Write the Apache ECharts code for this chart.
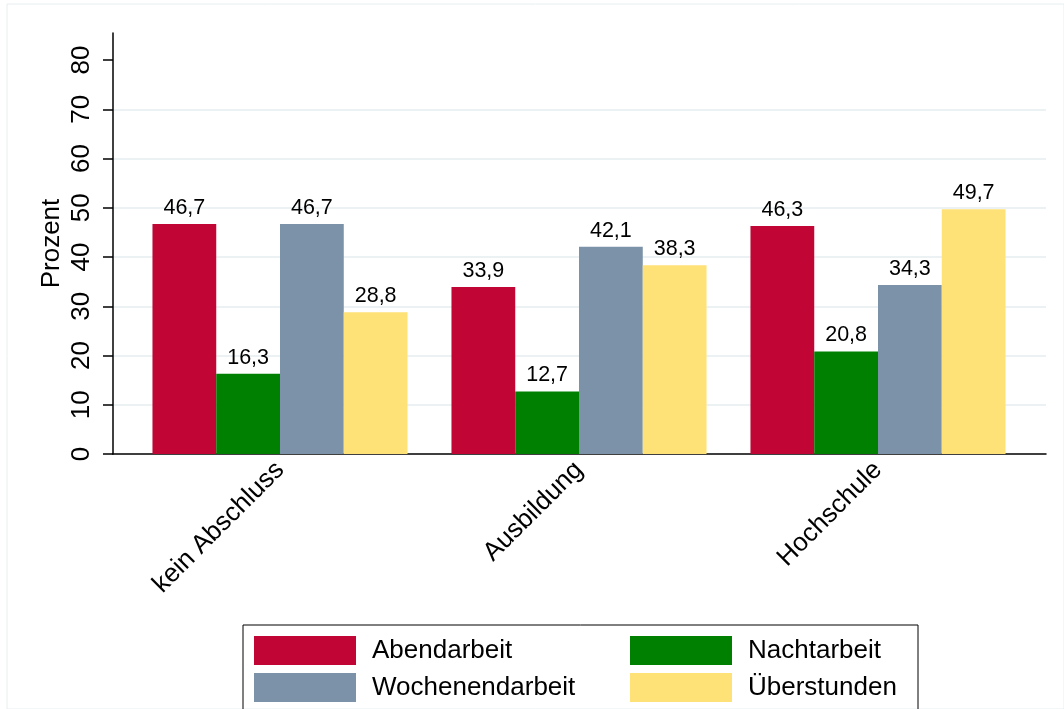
<!DOCTYPE html>
<html>
<head>
<meta charset="utf-8">
<script src="https://cdn.jsdelivr.net/npm/echarts@6/dist/echarts.min.js"></script>
<style>
html,body{margin:0;padding:0;background:#fff;}
#chart{width:1064px;height:709px;}
</style>
</head>
<body>
<div id="chart"></div>
<script>
const categories = ['kein Abschluss', 'Ausbildung', 'Hochschule'];
const seriesNames = ['Abendarbeit', 'Nachtarbeit', 'Wochenendarbeit', 'Überstunden'];
const abendarbeit = [46.7, 33.9, 46.3];
const nachtarbeit = [16.3, 12.7, 20.8];
const wochenendarbeit = [46.7, 42.1, 34.3];
const ueberstunden = [28.8, 38.3, 49.7];
const yTicks = [0, 10, 20, 30, 40, 50, 60, 70, 80];

const colors = ['#c10534', '#008000', '#7b92a8', '#ffe277'];
const values = [abendarbeit, nachtarbeit, wochenendarbeit, ueberstunden];
const FONT = "'Liberation Sans', Arial, Helvetica, sans-serif";
const gridColor = '#e6eef0';
const splitColors = yTicks.map((t, i) => (i === 0 || i === yTicks.length - 1) ? 'rgba(0,0,0,0)' : gridColor);

const chart = echarts.init(document.getElementById('chart'), null, {renderer: 'canvas'});

const series = seriesNames.map((name, i) => ({
  name: name,
  type: 'bar',
  xAxisIndex: 3,
  yAxisIndex: 3,
  data: values[i],
  barGap: '0%',
  barCategoryGap: '14.7%',
  itemStyle: {color: colors[i]},
  label: {
    show: true,
    position: 'top',
    distance: 5,
    color: '#000',
    fontSize: 21.5,
    fontFamily: FONT,
    formatter: p => p.value.toFixed(1).replace('.', ',')
  }
}));

const option = {
  animation: false,
  textStyle: {fontFamily: FONT},
  grid: [
    {left: 7, top: 4, width: 1100, height: 800, show: true, borderColor: gridColor, borderWidth: 1, backgroundColor: 'transparent'},
    {left: 113, top: 33, width: 933, height: 421},
    {left: 113, top: 60, width: 933, height: 394},
    {left: 130.5, top: 60, width: 897, height: 394}
  ],
  xAxis: [
    {gridIndex: 0, type: 'value', show: false},
    {gridIndex: 1, type: 'value', min: 0, max: 1, show: false},
    {gridIndex: 2, type: 'value', min: 0, max: 1,
      axisLine: {show: true, lineStyle: {color: '#000', width: 1.5}},
      axisTick: {show: false}, axisLabel: {show: false}, splitLine: {show: false}},
    {gridIndex: 3, type: 'category', data: categories,
      axisLine: {show: false}, axisTick: {show: false},
      axisLabel: {rotate: 45, fontSize: 26, color: '#000', margin: 12, fontFamily: FONT}}
  ],
  yAxis: [
    {gridIndex: 0, type: 'value', show: false},
    {gridIndex: 1, type: 'value', min: 0, max: 85.5,
      axisLine: {show: true, lineStyle: {color: '#000', width: 1.5}},
      axisTick: {show: false}, axisLabel: {show: false}, splitLine: {show: false},
      name: 'Prozent', nameLocation: 'middle', nameGap: 48, nameRotate: 90,
      nameTextStyle: {fontSize: 26, color: '#000', fontFamily: FONT}},
    {gridIndex: 2, type: 'value', min: 0, max: 80, interval: 10,
      axisLine: {show: false},
      axisTick: {show: true, length: 10, lineStyle: {color: '#000', width: 1.5}},
      axisLabel: {rotate: 90, fontSize: 26, color: '#000', margin: 18, fontFamily: FONT},
      splitLine: {show: true, lineStyle: {color: splitColors, width: 1.5}}},
    {gridIndex: 3, type: 'value', min: 0, max: 80, show: false}
  ],
  legend: {
    left: 243,
    top: 625,
    width: 680,
    orient: 'horizontal',
    padding: [11, 20, 20, 11],
    borderColor: '#000',
    borderWidth: 1,
    itemWidth: 102,
    itemHeight: 29,
    itemGap: 8,
    icon: 'rect',
    data: seriesNames,
    formatter: name => (seriesNames.indexOf(name) % 2 === 0 ? '{a|' + name + '}' : '{b|' + name + '}'),
    textStyle: {
      color: '#000',
      fontSize: 26,
      fontFamily: FONT,
      rich: {
        a: {width: 250, padding: [0, 0, 0, 11], fontSize: 26, lineHeight: 29, color: '#000', fontFamily: FONT},
        b: {width: 150, padding: [0, 0, 0, 11], fontSize: 26, lineHeight: 29, color: '#000', fontFamily: FONT}
      }
    }
  },
  series: series
};
chart.setOption(option);
</script>
</body>
</html>
